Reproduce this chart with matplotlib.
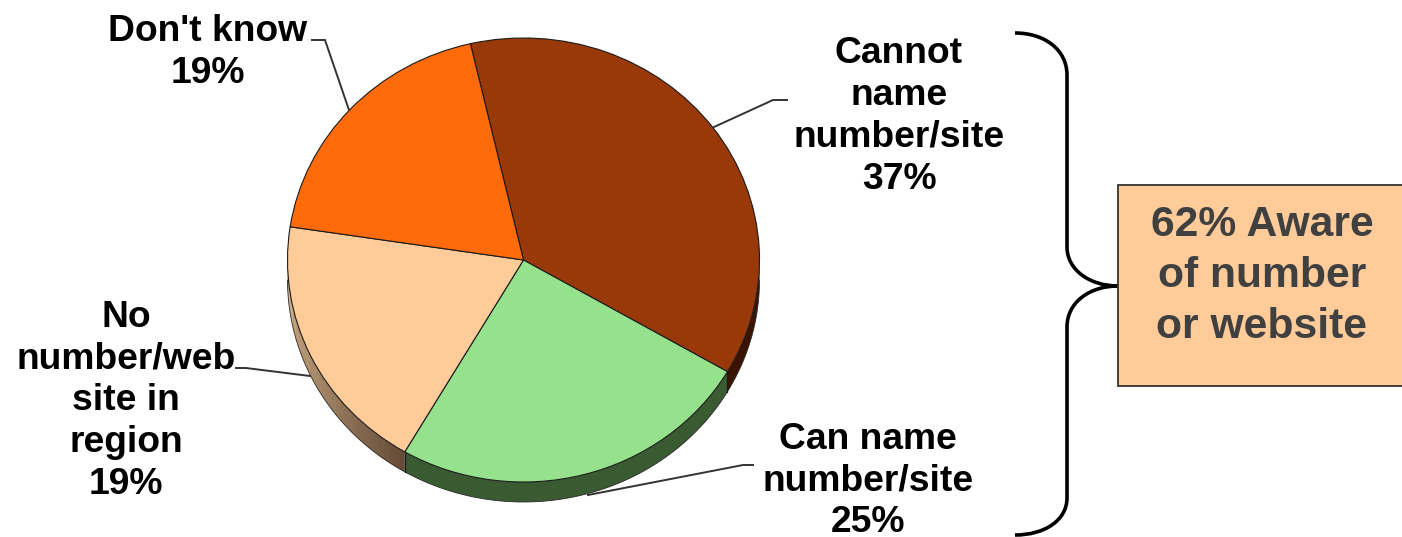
import numpy as np
import matplotlib
matplotlib.use('Agg')
import matplotlib.pyplot as plt
from matplotlib.path import Path
from matplotlib.patches import PathPatch, Rectangle, Polygon

plt.rcParams['font.family'] = ['Liberation Sans', 'DejaVu Sans']

W, H = 1402, 537

# slices, clockwise from the Don't know / Cannot name boundary
labels = ["Cannot\nname\nnumber/site\n37%", "Can name\nnumber/site\n25%",
          "No\nnumber/web\nsite in\nregion\n19%", "Don't know\n19%"]
values = [37, 25, 19, 19]
colors = ["#993909", "#96e28c", "#ffcc99", "#ff6b0a"]
wall_colors = ["#3a1400", "#3a5a32", None, None]
box_text = "62% Aware\nof number\nor website"

START_ANGLE = 103
CX, CY, RX, RY, DEPTH = 523.5, 260, 236, 222, 20


def px_rect(x0, y0, x1, y1):
    return [x0 / W, 1 - y1 / H, (x1 - x0) / W, (y1 - y0) / H]


fig = plt.figure(figsize=(W / 100, H / 100), dpi=100)

# pixel coordinate layer for the labels, leaders and brace
ax = fig.add_axes([0, 0, 1, 1], zorder=3)
ax.set_xlim(0, W)
ax.set_ylim(H, 0)
ax.axis('off')

# pie top face, squashed into an ellipse by the axes box
pie_ax = fig.add_axes(px_rect(CX - RX, CY - RY, CX + RX, CY + RY), zorder=2)
pie_ax.pie(values, colors=colors, startangle=START_ANGLE, counterclock=False,
           radius=1, wedgeprops={'edgecolor': '#1a1a1a', 'linewidth': 0.8})
pie_ax.set_aspect('auto')
pie_ax.set_xlim(-1, 1)
pie_ax.set_ylim(-1, 1)

# side wall of the pie, only the part facing the viewer
d = DEPTH / RY
edges = 90 - START_ANGLE + 360 * np.cumsum([0] + values) / sum(values)


def wall(a0, a1, color, z=1):
    t = np.radians(np.linspace(a0, a1, 60))
    xs, ys = np.sin(t), np.cos(t)
    pts = np.column_stack([np.r_[xs, xs[::-1]], np.r_[ys, ys[::-1] - d]])
    pie_ax.add_patch(Polygon(pts, closed=True, facecolor=color, edgecolor='none',
                             clip_on=False, zorder=z))


wall(90, edges[1], wall_colors[0], z=-2)
wall(edges[1], edges[2], wall_colors[1], z=-2)

# peach wall fades from tan at the left to dark brown near the front
tan = np.array([0xc9, 0xa8, 0x80]) / 255
dark = np.array([0x66, 0x4c, 0x38]) / 255
steps = np.linspace(edges[2], 270, 41)
for i in range(40):
    f = (steps[0] - steps[i]) / (steps[0] - steps[-1])
    f = 1 - (1 - f) ** 1.5
    wall(steps[i], steps[i + 1] + 0.3, dark + (tan - dark) * f, z=-2)

# outline below the wall and on the vertical seams
t = np.radians(np.linspace(90, 270, 200))
pie_ax.plot(np.sin(t), np.cos(t) - d, color='#2a2a2a', lw=0.6, clip_on=False, zorder=-1)
for e in edges[1:3]:
    s, c = np.sin(np.radians(e)), np.cos(np.radians(e))
    pie_ax.plot([s, s], [c, c - d], color='#1a1a1a', lw=0.9, clip_on=False, zorder=-1)

# slice labels
label_pos = [(899, 116.5), (868, 481), (126, 401), (208, 52.5)]
for txt, (x, y) in zip(labels, label_pos):
    ax.text(x, y, txt, ha='center', va='center', fontsize=26.8, fontweight='bold',
            color='black', linespacing=1.255)

# leader lines
leaders = [
    [(787, 100), (773, 100), (714, 127)],
    [(753, 465), (743, 465), (588, 495)],
    [(236, 368), (246, 368), (310, 376)],
    [(312, 40), (325, 40), (349, 110)],
]
for pts in leaders:
    xs, ys = zip(*pts)
    ax.plot(xs, ys, color='#333333', lw=1.4, solid_joinstyle='miter')

# brace
verts = [(1015, 33), (1045, 33), (1067, 50), (1067, 75),
         (1067, 247),
         (1067, 270), (1090, 286), (1118, 286),
         (1090, 286), (1067, 302), (1067, 327),
         (1067, 498),
         (1067, 520), (1045, 535), (1015, 535)]
codes = [Path.MOVETO, Path.CURVE4, Path.CURVE4, Path.CURVE4,
         Path.LINETO,
         Path.CURVE4, Path.CURVE4, Path.CURVE4,
         Path.CURVE4, Path.CURVE4, Path.CURVE4,
         Path.LINETO,
         Path.CURVE4, Path.CURVE4, Path.CURVE4]
ax.add_patch(PathPatch(Path(verts, codes), facecolor='none', edgecolor='black', lw=2.6))

# summary box
ax.add_patch(Rectangle((1118, 185), 290, 201, facecolor='#ffcc99', edgecolor='#333333', lw=1.3))
ax.text(1262, 276, box_text, ha='center', va='center', fontsize=30.7, fontweight='bold',
        color='#404040', linespacing=1.37)

fig.savefig('out.png', dpi=100)
